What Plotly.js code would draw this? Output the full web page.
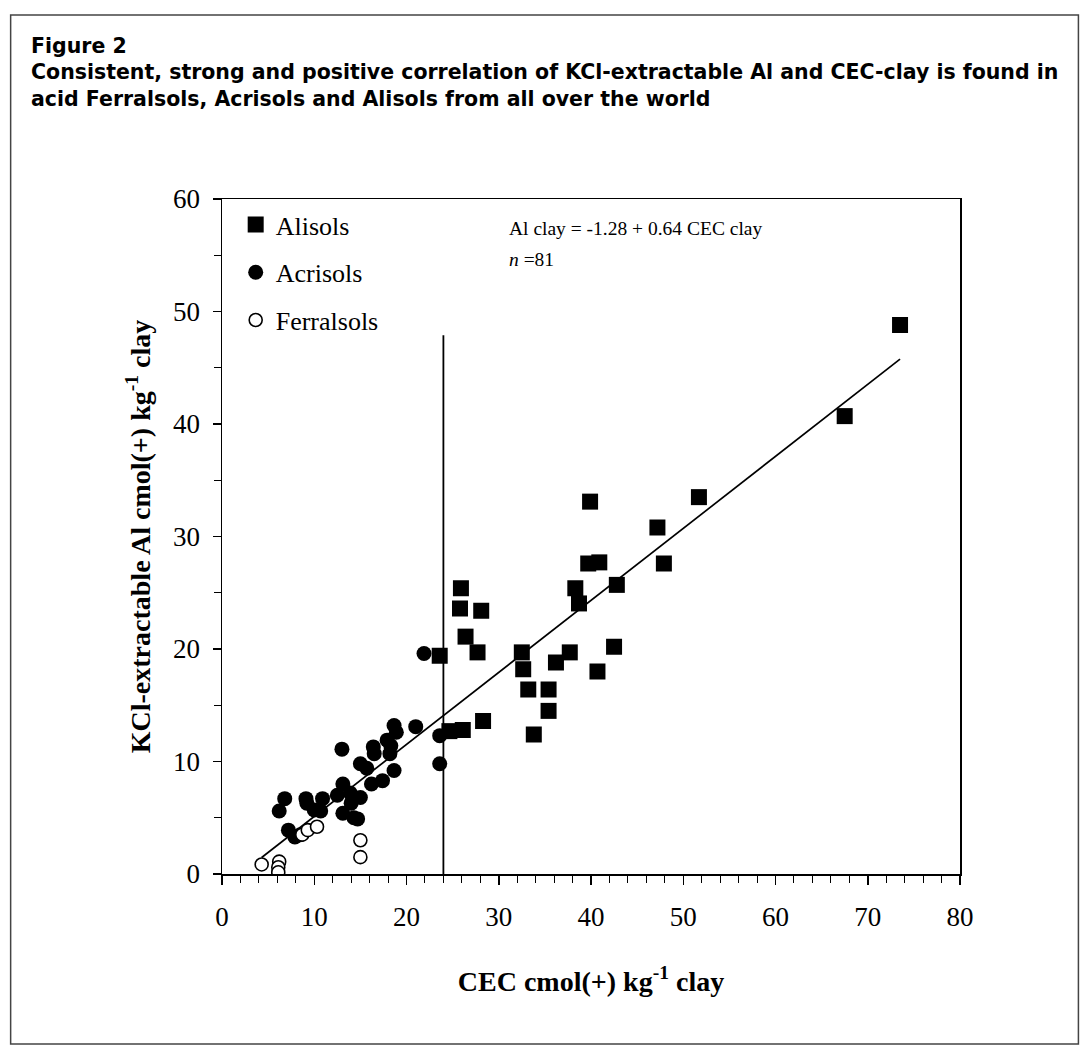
<!DOCTYPE html>
<html>
<head>
<meta charset="utf-8">
<script src="https://cdn.plot.ly/plotly-3.0.1.min.js"></script>
<style>html,body{margin:0;padding:0;background:#fff;}#chart{width:1090px;height:1047px;}</style>
</head>
<body>
<div id="chart"></div>
<script>
// CEC clay (x) and KCl-extractable Al clay (y)
const alisolsX = [23.6, 24.65, 26.1, 25.9, 25.8, 28.1, 26.4, 27.7, 28.3, 32.5, 32.65, 33.2, 33.8, 35.4, 35.4, 36.2, 37.7, 38.3, 38.7, 39.7, 40.9, 39.9, 40.7, 42.5, 42.8, 47.2, 47.9, 51.7, 67.5, 73.5];
const alisolsY = [19.4, 12.7, 12.8, 25.4, 23.6, 23.4, 21.1, 19.7, 13.6, 19.7, 18.2, 16.4, 12.4, 16.4, 14.5, 18.8, 19.7, 25.4, 24.05, 27.6, 27.7, 33.1, 18.0, 20.2, 25.7, 30.8, 27.6, 33.5, 40.7, 48.8];
const acrisolsX = [21.9, 23.6, 23.6, 18.65, 18.9, 21.0, 17.9, 18.3, 16.4, 16.5, 18.2, 13.0, 15.0, 15.7, 18.65, 17.4, 16.2, 13.1, 12.5, 13.9, 15.0, 13.1, 14.3, 14.7, 14.0, 10.9, 9.1, 9.2, 10.7, 10.0, 6.8, 6.2, 7.2, 7.9, 8.5];
const acrisolsY = [19.6, 12.3, 9.8, 13.2, 12.6, 13.1, 11.9, 11.4, 11.3, 10.7, 10.7, 11.1, 9.8, 9.4, 9.2, 8.3, 8.0, 8.0, 7.0, 7.2, 6.8, 5.4, 5.0, 4.9, 6.3, 6.7, 6.7, 6.3, 5.6, 5.7, 6.7, 5.6, 3.9, 3.3, 3.5];
const ferralsolsX = [4.3, 6.2, 6.1, 6.1, 8.7, 9.3, 10.3, 15.0, 15.0];
const ferralsolsY = [0.85, 1.1, 0.6, 0.15, 3.5, 3.9, 4.2, 3.0, 1.5];
// regression line end points and the vertical divider
const fitX = [4.3, 73.5];
const fitY = [1.47, 45.76];
const divX = [24, 24];
const divY = [0, 47.9];
const xTicks = [0, 10, 20, 30, 40, 50, 60, 70, 80];
const yTicks = [0, 10, 20, 30, 40, 50, 60];

const serif = 'Liberation Serif, Times New Roman, serif';
const traces = [
  {x: fitX, y: fitY, mode: 'lines', line: {color: '#000', width: 1.7}, showlegend: false, hoverinfo: 'skip'},
  {x: divX, y: divY, mode: 'lines', line: {color: '#000', width: 1.8}, showlegend: false, hoverinfo: 'skip'},
  {x: alisolsX, y: alisolsY, name: 'Alisols', legendgroup: 'a', mode: 'markers', type: 'scatter',
   marker: {symbol: 'square', size: 16, color: '#000', line: {width: 0}}},
  {x: acrisolsX, y: acrisolsY, name: 'Acrisols', legendgroup: 'b', mode: 'markers', type: 'scatter',
   marker: {symbol: 'circle', size: 15, color: '#000', line: {width: 0}}},
  {x: ferralsolsX, y: ferralsolsY, name: 'Ferralsols', legendgroup: 'c', mode: 'markers', type: 'scatter',
   marker: {symbol: 'circle', size: 13, color: '#fff', line: {color: '#000', width: 1.6}}}
];

const L = 222, R = 960.5, T = 199, B = 874;
const W = R - L, H = B - T;
const layout = {
  width: 1090, height: 1047,
  paper_bgcolor: '#fff', plot_bgcolor: '#fff',
  margin: {l: L, r: 1090 - R, t: T, b: 1047 - B, pad: 0},
  title: {
    text: '<b>Figure 2</b><br><b>Consistent, strong and positive correlation of KCl-extractable Al and CEC-clay is found in</b><br><b>acid Ferralsols, Acrisols and Alisols from all over the world</b>',
    x: 31/1090, xanchor: 'left', xref: 'container',
    y: 1 - 52.5/1047, yanchor: 'top', yref: 'container',
    font: {family: 'DejaVu Sans, Liberation Sans, Arial, sans-serif', size: 20.5, color: '#000'}
  },
  xaxis: {
    range: [0, 80], tickvals: xTicks, ticktext: xTicks.map(String),
    ticks: 'outside', ticklen: 9, tickwidth: 1.5, tickcolor: '#000',
    minor: {dtick: 2, ticks: 'outside', ticklen: 7, tickwidth: 1, tickcolor: '#000', showgrid: false},
    showline: true, linecolor: '#000', linewidth: 1.5, mirror: true,
    showgrid: false, zeroline: false,
    tickfont: {family: serif, size: 27, color: '#000'}, ticklabelstandoff: 9,
    title: {text: '<b>CEC cmol(+) kg<sup>-1</sup> clay</b>', font: {family: serif, size: 28, color: '#000'}, standoff: 40}
  },
  yaxis: {
    range: [0, 60], tickvals: yTicks, ticktext: yTicks.map(String),
    ticks: 'outside', ticklen: 8, tickwidth: 1.5, tickcolor: '#000',
    minor: {dtick: 5, ticks: 'outside', ticklen: 7, tickwidth: 1, tickcolor: '#000', showgrid: false},
    showline: true, linecolor: '#000', linewidth: 1.5, mirror: true,
    showgrid: false, zeroline: false,
    tickfont: {family: serif, size: 27, color: '#000'}, ticklabelstandoff: 7,
    title: {text: '<b>KCl-extractable Al cmol(+) kg<sup>-1</sup> clay</b>', font: {family: serif, size: 28, color: '#000'}, standoff: 14}
  },
  legend: {
    x: (235.7 - L) / W, y: 1 - 2 / H, xanchor: 'left', yanchor: 'top',
    bgcolor: 'rgba(0,0,0,0)', borderwidth: 0,
    font: {family: serif, size: 26, color: '#000'},
    tracegroupgap: 11, itemwidth: 30
  },
  annotations: [
    {xref: 'paper', yref: 'paper', x: (507 - L) / W, y: (B - 229) / H, xanchor: 'left', yanchor: 'middle', align: 'left',
     text: 'Al clay = -1.28 + 0.64 CEC clay', showarrow: false, font: {family: serif, size: 19.5, color: '#000'}},
    {xref: 'paper', yref: 'paper', x: (507 - L) / W, y: (B - 259) / H, xanchor: 'left', yanchor: 'middle', align: 'left',
     text: '<i>n</i> =81', showarrow: false, font: {family: serif, size: 19.5, color: '#000'}}
  ],
  shapes: [{
    type: 'rect', xref: 'paper', yref: 'paper',
    x0: (10.5 - L) / W, x1: (1079 - L) / W, y0: (B - 1044) / H, y1: (B - 15) / H,
    line: {color: '#444', width: 1.5}, fillcolor: 'rgba(0,0,0,0)', layer: 'below'
  }],
  showlegend: true
};
Plotly.newPlot('chart', traces, layout, {staticPlot: true});
</script>
</body>
</html>
